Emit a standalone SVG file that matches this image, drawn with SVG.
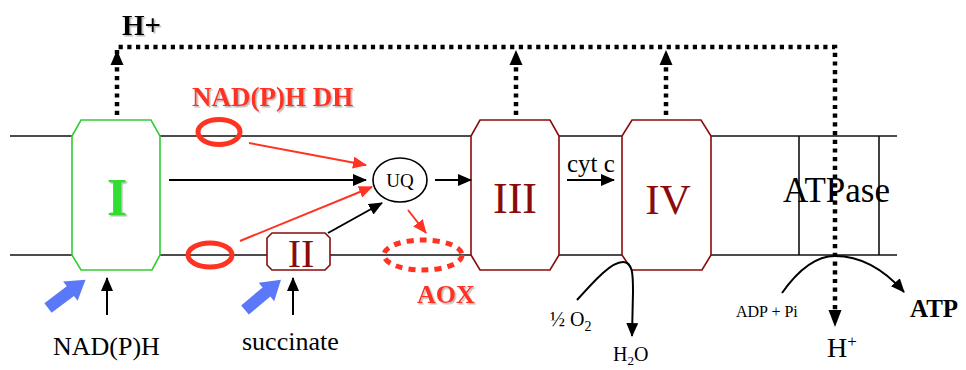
<svg xmlns="http://www.w3.org/2000/svg" width="966" height="370" viewBox="0 0 966 370">
<style>
.mem{stroke:#111;stroke-width:1.6;fill:none}
.cx{fill:#fff;stroke:#8b0a0a;stroke-width:1.6}
.t{font-family:"Liberation Serif","Times New Roman",serif;fill:#000}
.b{font-weight:bold}
.red{fill:#ff3322}
.mar{fill:#8b0a0a}
.dot{stroke:#000;stroke-width:4.5;stroke-dasharray:4.2 4.5;fill:none}
.blk{stroke:#000;stroke-width:2;fill:none}
.rl{stroke:#ff3322;stroke-width:2;fill:none}
.sh{filter:url(#shadow)}
</style>
<defs>
<filter id="shadow" x="-20%" y="-20%" width="140%" height="140%">
<feDropShadow dx="1.5" dy="1.5" stdDeviation="0.6" flood-color="#888" flood-opacity="0.6"/>
</filter>
<marker id="ak" markerUnits="userSpaceOnUse" markerWidth="14" markerHeight="12" refX="13" refY="6" orient="auto"><path d="M0,0 L14,6 L0,12 Z" fill="#000"/></marker>
<marker id="ar" markerUnits="userSpaceOnUse" markerWidth="14" markerHeight="12" refX="13" refY="6" orient="auto"><path d="M0,0 L14,6 L0,12 Z" fill="#ff3322"/></marker>
<path id="bluearrow" d="M0,-6 L28,-6 L28,-12 L47,0 L28,12 L28,6 L0,6 Z" fill="#5b78f8"/>
</defs>

<g id="membrane">
<line class="mem" x1="10" y1="136" x2="897" y2="136"/>
<line class="mem" x1="10" y1="255" x2="897" y2="255"/>
</g>

<g id="atpase">
<line class="mem" x1="799" y1="136" x2="799" y2="255"/>
<line class="mem" x1="879" y1="136" x2="879" y2="255"/>
<text class="t" x="783" y="202" font-size="35">ATPase</text>
</g>

<g id="complexI">
<polygon points="81,120 151,120 160,136 160,255 152,270 81,270 72,255 72,136" fill="#fff" stroke="#33cc33" stroke-width="1.6"/>
<text class="t b sh" x="117" y="215" font-size="52" text-anchor="middle" style="fill:#33dd33">I</text>
</g>

<g id="complexII">
<polygon class="cx" points="272,233 325,233 330,238 330,265 325,270 272,270 267,265 267,238"/>
<text class="t mar" x="301" y="267" font-size="40" text-anchor="middle">II</text>
</g>

<g id="complexIII">
<polygon class="cx" points="480,120 550,120 559,136 559,255 550,270 480,270 471,255 471,136"/>
<text class="t mar" x="515" y="213" font-size="44" text-anchor="middle">III</text>
</g>

<g id="complexIV">
<polygon class="cx" points="632,120 701,120 711,136 711,255 702,270 632,270 622,255 622,136"/>
<text class="t mar" x="668" y="214" font-size="43" text-anchor="middle">IV</text>
</g>

<g id="uq">
<ellipse cx="400" cy="180" rx="27" ry="22" fill="#fff" stroke="#000" stroke-width="1.6"/>
<text class="t" x="400" y="187" font-size="19" text-anchor="middle">UQ</text>
</g>

<g id="ndh">
<ellipse cx="219" cy="132" rx="21" ry="12.5" fill="none" stroke="#ff3322" stroke-width="5"/>
<ellipse cx="210" cy="255" rx="22" ry="12" fill="none" stroke="#ff3322" stroke-width="5"/>
<text class="t b red sh" x="192" y="106" font-size="27">NAD(P)H DH</text>
</g>

<g id="aox">
<ellipse cx="423" cy="255" rx="39" ry="15" fill="none" stroke="#ff3322" stroke-width="5" stroke-dasharray="7 6"/>
<text class="t b red sh" x="417" y="303" font-size="26">AOX</text>
</g>

<g id="connectors">
<polyline class="dot" points="117,115 117,47 835,47 835,310"/>
<line class="dot" x1="516" y1="115" x2="516" y2="62"/>
<line class="dot" x1="666" y1="115" x2="666" y2="62"/>
<polygon points="117,50 110.5,65 123.5,65" fill="#000"/>
<polygon points="516,50 509.5,65 522.5,65" fill="#000"/>
<polygon points="666,50 659.5,65 672.5,65" fill="#000"/>
<polygon points="835,327 828.5,310 841.5,310" fill="#000"/>
<line class="blk" x1="169" y1="180" x2="366" y2="180" marker-end="url(#ak)"/>
<line class="blk" x1="435" y1="180" x2="471" y2="180" marker-end="url(#ak)"/>
<line class="blk" x1="328" y1="233" x2="382" y2="203" marker-end="url(#ak)"/>
<line class="blk" x1="567" y1="180" x2="614" y2="180" marker-end="url(#ak)"/>
<line class="rl" x1="249" y1="143" x2="366" y2="165" marker-end="url(#ar)"/>
<line class="rl" x1="240" y1="241" x2="372" y2="187" marker-end="url(#ar)"/>
<line class="rl" x1="408" y1="210" x2="426" y2="233" marker-end="url(#ar)"/>
<line class="blk" x1="107" y1="315" x2="107" y2="278" marker-end="url(#ak)"/>
<line class="blk" x1="293" y1="315" x2="293" y2="278" marker-end="url(#ak)"/>
<use href="#bluearrow" transform="translate(48,308) rotate(-37)"/>
<use href="#bluearrow" transform="translate(245,310) rotate(-40)"/>
<path class="blk" d="M577,300 C595,280 611,262 623,262 C633,262 633,275 633,292 L632,336" marker-end="url(#ak)"/>
<path class="blk" d="M782,293 Q808,256 835,256 Q872,256 904,292" marker-end="url(#ak)"/>
</g>

<g id="labels">
<text class="t b sh" x="122" y="35" font-size="29">H+</text>
<text class="t" x="53" y="355" font-size="26">NAD(P)H</text>
<text class="t" x="242" y="350" font-size="26">succinate</text>
<text class="t" x="567" y="172" font-size="25">cyt c</text>
<text class="t" x="550" y="326" font-size="20">½ O<tspan font-size="14" dy="5">2</tspan></text>
<text class="t" x="613" y="361" font-size="20">H<tspan font-size="13" dy="4">2</tspan><tspan dy="-4">O</tspan></text>
<text class="t" x="736" y="317" font-size="16">ADP + Pi</text>
<text class="t b" x="910" y="317" font-size="25">ATP</text>
<text class="t" x="827" y="357" font-size="28">H<tspan font-size="17" dy="-10">+</tspan></text>
</g>
</svg>
